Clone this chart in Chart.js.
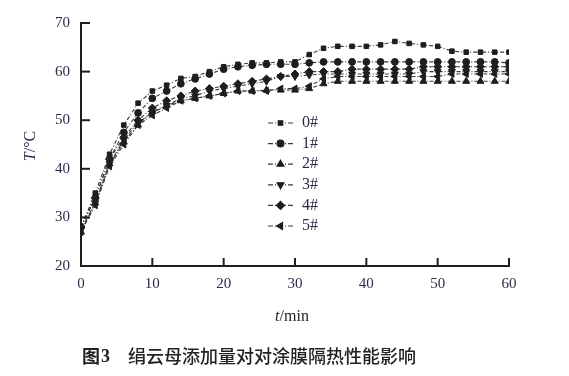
<!DOCTYPE html>
<html>
<head>
<meta charset="utf-8">
<script src="https://cdn.jsdelivr.net/npm/chart.js@4/dist/chart.umd.min.js"></script>
<style>
  html, body { margin: 0; padding: 0; background: #fff; }
  #wrap { width: 569px; height: 376px; position: relative; }
</style>
</head>
<body>
<div id="wrap"><canvas id="grafico"></canvas></div>
<script>
// Tiempo (min), cada 2 minutos
const tiempos = [0, 2, 4, 6, 8, 10, 12, 14, 16, 18, 20, 22, 24, 26, 28, 30,
                 32, 34, 36, 38, 40, 42, 44, 46, 48, 50, 52, 54, 56, 58, 60];

// Temperatura (°C) por muestra
const serie0 = [28, 35, 43, 49, 53.5, 56, 57.2, 58.6, 59, 60, 61, 61.5, 61.8, 61.8, 62, 62,
                63.5, 64.8, 65.2, 65.2, 65.2, 65.5, 66.2, 65.8, 65.5, 65.2, 64.2, 64, 64, 64, 64];
const serie1 = [28, 34, 42, 47.5, 51.5, 54.5, 56, 57.5, 58.5, 59.5, 60.5, 61, 61.3, 61.5, 61.5, 61.5,
                61.8, 62, 62, 62, 62, 62, 62, 62, 62, 62, 62, 62, 62, 62, 61.8];
const serie2 = [27, 33, 41, 45.5, 49, 51.8, 53, 54, 54.5, 55, 55.5, 56, 56, 56.2, 56.2, 56.2,
                56.5, 57.5, 58, 58, 58, 58, 58, 58, 58, 58, 58, 58, 58, 58, 58];
const serie3 = [27.5, 33, 41, 46, 49.5, 51.5, 53, 54.5, 55, 56, 56.5, 57, 57.5, 58, 59, 59,
                59.3, 59.5, 59.5, 59.5, 59.5, 59.5, 59.5, 59.5, 60, 60, 60, 60, 60, 60, 60];
const serie4 = [28, 34, 42, 46.5, 50, 52.5, 54, 55, 56, 56.5, 57, 57.5, 58, 58.5, 59, 59.5,
                60, 60, 60, 60.5, 60.5, 60.5, 60.5, 60.5, 61, 61, 61, 61, 61, 61, 61];
const serie5 = [27, 32.5, 40.5, 45, 49, 51, 52.5, 54, 54.5, 55, 55.5, 56, 56, 56, 56.5, 56.5,
                57, 58.5, 59, 59, 59, 59, 59, 59, 59, 59, 59.5, 59.5, 59.5, 59.5, 59.5];

const etiquetas = ['0#', '1#', '2#', '3#', '4#', '5#'];
const valoresX = [0, 10, 20, 30, 40, 50, 60];
const valoresY = [20, 30, 40, 50, 60, 70];

const series = [serie0, serie1, serie2, serie3, serie4, serie5];
const marcadores = [
  { style: 'rect', rot: 0, r: 3.2 },
  { style: 'circle', rot: 0, r: 3.4 },
  { style: 'triangle', rot: 0, r: 4 },
  { style: 'triangle', rot: 180, r: 4 },
  { style: 'rectRot', rot: 0, r: 4 },
  { style: 'triangle', rot: -90, r: 4 }
];

const colorTinta = '#1e1e1e';
const colorTexto = '#2b2b48';
const colorLinea = '#3a3a3a';

const datasets = series.map((s, i) => ({
  label: etiquetas[i],
  data: tiempos.map((t, j) => ({ x: t, y: s[j] })),
  borderColor: colorLinea,
  borderWidth: 1.1,
  borderDash: [4, 2, 1, 2],
  backgroundColor: colorTinta,
  pointBackgroundColor: colorTinta,
  pointBorderColor: colorTinta,
  pointBorderWidth: 1,
  pointStyle: marcadores[i].style,
  rotation: marcadores[i].rot,
  pointRadius: marcadores[i].r,
  tension: 0
}));

// Dibuja un marcador para la leyenda
function dibujarMarcador(ctx, estilo, rot, r, x, y) {
  if (Chart.helpers && Chart.helpers.drawPoint) {
    Chart.helpers.drawPoint(ctx, { pointStyle: estilo, rotation: rot, radius: r, borderWidth: 1 }, x, y);
    return;
  }
  ctx.beginPath();
  ctx.arc(x, y, r, 0, Math.PI * 2);
  ctx.fill();
}

// Ticks hacia adentro, leyenda y textos
const decoracion = {
  id: 'decoracion',
  afterDraw(chart) {
    const ctx = chart.ctx;
    const sx = chart.scales.x, sy = chart.scales.y;
    const area = chart.chartArea;
    ctx.save();
    ctx.strokeStyle = colorTinta;
    ctx.lineWidth = 2;
    valoresX.forEach(v => {
      const px = sx.getPixelForValue(v);
      ctx.beginPath(); ctx.moveTo(px, area.bottom); ctx.lineTo(px, area.bottom - 8); ctx.stroke();
    });
    valoresY.forEach(v => {
      const py = sy.getPixelForValue(v);
      ctx.beginPath(); ctx.moveTo(area.left, py); ctx.lineTo(area.left + 9, py); ctx.stroke();
    });

    // Leyenda
    const lx = 268, ly = 123, paso = 20.6;
    chart.data.datasets.forEach((ds, i) => {
      const y = ly + i * paso;
      ctx.strokeStyle = colorLinea;
      ctx.lineWidth = 1.2;
      ctx.setLineDash([5, 2, 1, 2]);
      ctx.beginPath(); ctx.moveTo(lx, y); ctx.lineTo(lx + 25, y); ctx.stroke();
      ctx.setLineDash([]);
      ctx.fillStyle = colorTinta;
      ctx.strokeStyle = colorTinta;
      dibujarMarcador(ctx, ds.pointStyle, ds.rotation, ds.pointRadius, lx + 12.5, y);
      ctx.fillStyle = colorTexto;
      ctx.font = '16px "Liberation Serif"';
      ctx.textAlign = 'left';
      ctx.textBaseline = 'middle';
      ctx.fillText(ds.label, lx + 34, y);
    });

    // Título eje Y
    ctx.save();
    ctx.translate(31, 146);
    ctx.rotate(-Math.PI / 2);
    ctx.fillStyle = colorTexto;
    ctx.textBaseline = 'middle';
    ctx.textAlign = 'left';
    ctx.font = 'italic 16px "Liberation Serif"';
    const wT = ctx.measureText('T').width;
    ctx.font = '16px "Liberation Serif"';
    const wR = ctx.measureText('/°C').width;
    ctx.font = 'italic 16px "Liberation Serif"';
    ctx.fillText('T', -(wT + wR) / 2, 0);
    ctx.font = '16px "Liberation Serif"';
    ctx.fillText('/°C', -(wT + wR) / 2 + wT, 0);
    ctx.restore();

    // Título eje X
    ctx.fillStyle = colorTinta;
    ctx.textBaseline = 'middle';
    ctx.textAlign = 'left';
    ctx.font = 'italic 16px "Liberation Serif"';
    const wt = ctx.measureText('t').width;
    ctx.font = '16px "Liberation Serif"';
    const wm = ctx.measureText('/min').width;
    const x0 = 292 - (wt + wm) / 2;
    ctx.font = 'italic 16px "Liberation Serif"';
    ctx.fillText('t', x0, 317);
    ctx.font = '16px "Liberation Serif"';
    ctx.fillText('/min', x0 + wt, 317);

    // Pie de figura
    ctx.fillStyle = '#222';
    ctx.font = 'bold 18px "Noto Sans CJK SC"';
    ctx.fillText('图', 82, 356);
    ctx.font = 'bold 18px "Liberation Serif"';
    ctx.fillText('3', 101, 357);
    ctx.font = '500 18px "Noto Sans CJK SC"';
    ctx.fillText('绢云母添加量对对涂膜隔热性能影响', 128, 356);
    ctx.restore();
  }
};

new Chart(document.getElementById('grafico'), {
  type: 'line',
  data: { datasets },
  plugins: [decoracion],
  options: {
    responsive: true,
    maintainAspectRatio: false,
    animation: false,
    layout: { padding: { left: 0, top: 23, right: 60, bottom: 0 } },
    plugins: {
      legend: { display: false },
      tooltip: { enabled: false }
    },
    scales: {
      x: {
        type: 'linear',
        min: 0, max: 60,
        afterBuildTicks: s => { s.ticks = valoresX.map(v => ({ value: v })); },
        afterFit: s => { s.height = 110; },
        grid: { display: false, drawTicks: false },
        border: { display: true, color: colorTinta, width: 2 },
        ticks: { padding: 9, color: colorTexto, font: { family: 'Liberation Serif', size: 15 } }
      },
      y: {
        min: 20, max: 70,
        afterBuildTicks: s => { s.ticks = valoresY.map(v => ({ value: v })); },
        afterFit: s => { s.width = 81; },
        grid: { display: false, drawTicks: false },
        border: { display: true, color: colorTinta, width: 2 },
        ticks: { padding: 11, color: colorTexto, font: { family: 'Liberation Serif', size: 15 } }
      }
    }
  }
});
</script>
</body>
</html>
